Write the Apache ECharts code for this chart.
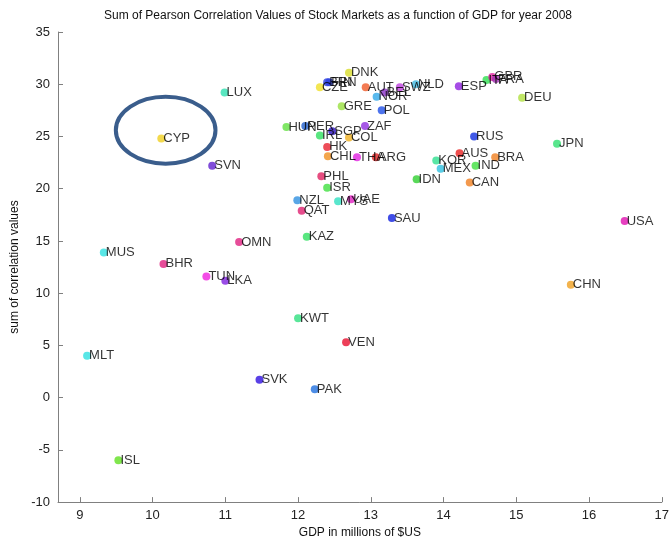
<!DOCTYPE html>
<html>
<head>
<meta charset="utf-8">
<title>Sum of Pearson Correlation Values vs GDP, 2008</title>
<script src="https://cdn.jsdelivr.net/npm/echarts@6/dist/echarts.min.js"></script>
<style>
  html, body { margin: 0; padding: 0; background: #fff; }
  #chart { width: 672px; height: 544px; }
</style>
</head>
<body>
<div id="chart"></div>
<script>
// Country codes, GDP (millions of $US, log scale units) and summed correlations
const countries = ['DNK','BRN','FIN','CZE','AUT','BEL','NOR','SWZ','NLD','POL','GRE',
  'HUN','PER','SGP','ZAF','IRL','COL','HK','CHL','THA','ARG',
  'ESP','ITA','GBR','FRA','DEU','RUS','JPN','AUS','KOR','MEX','IND','BRA','CAN','IDN',
  'PHL','ISR','NZL','MYS','UAE','QAT','SAU','KAZ','OMN','MUS','BHR','TUN','LKA',
  'KWT','VEN','MLT','SVK','PAK','ISL','USA','CHN','LUX','CYP','SVN'];
const gdp = [12.70, 12.40, 12.43, 12.30, 12.93, 13.19, 13.08, 13.40, 13.62, 13.15, 12.60,
  11.84, 12.10, 12.47, 12.92, 12.30, 12.70, 12.40, 12.41, 12.81, 13.07,
  14.21, 14.59, 14.67, 14.72, 15.08, 14.42, 15.56, 14.22, 13.90, 13.96, 14.44, 14.71, 14.36, 13.63,
  12.32, 12.40, 11.99, 12.55, 12.73, 12.05, 13.29, 12.12, 11.19, 9.33, 10.15, 10.74, 11.00,
  12.00, 12.66, 9.10, 11.47, 12.23, 9.53, 16.49, 15.75, 10.99, 10.12, 10.82];
const correlation = [31.1, 30.2, 30.2, 29.7, 29.7, 29.2, 28.8, 29.7, 30.0, 27.5, 27.9,
  25.9, 26.0, 25.5, 26.0, 25.1, 24.9, 24.0, 23.1, 23.0, 23.0,
  29.8, 30.4, 30.7, 30.5, 28.7, 25.0, 24.3, 23.4, 22.7, 21.9, 22.2, 23.0, 20.6, 20.9,
  21.2, 20.1, 18.9, 18.8, 19.0, 17.9, 17.2, 15.4, 14.9, 13.9, 12.8, 11.6, 11.2,
  7.6, 5.3, 4.0, 1.7, 0.8, -6.0, 16.9, 10.8, 29.2, 24.8, 22.2];

// Marker colours, one per country in the same order
const pointColors = ['#d8dc2c','#2a3ee0','#2a3ee0','#f0e028','#f05a28','#8a30c8','#30a8e8','#c040e0','#40b8e0','#2050e8','#98e040',
  '#60e040','#2060d0','#2a10c0','#9030e0','#30e060','#f0b020','#e82030','#f09020','#e020e0','#e02020',
  '#9020e0','#30e050','#e020a0','#a030b0','#b0e040','#1030e0','#30e070','#e82020','#30e090','#30c0e0','#40e040','#f08020','#f08020','#30d030',
  '#e02060','#40e040','#3090e0','#30e0c0','#e020c0','#e02070','#1020e0','#30e060','#e02080','#30e0e0','#e02080','#f020e0','#8020e0',
  '#30e080','#e81030','#30e0e0','#3010e0','#2070e0','#60e020','#e010b0','#f0a020','#30e0b0','#f0d020','#6020d0'];

const xTicks = [9, 10, 11, 12, 13, 14, 15, 16, 17];

// Ring drawn around CYP, in axis units
const highlightCenter = [10.18, 25.6];
const highlightRadius = [0.685, 3.2];

const fontFamily = 'Arial, "Liberation Sans", sans-serif';
const axisGray = '#808080';

const chart = echarts.init(document.getElementById('chart'), null, { renderer: 'canvas' });

const points = countries.map((c, i) => ({
  name: c,
  value: [gdp[i], correlation[i]],
  itemStyle: { color: pointColors[i] }
}));

chart.setOption({
  animation: false,
  backgroundColor: '#ffffff',
  title: {
    text: 'Sum of Pearson Correlation Values of Stock Markets as a function of GDP for year 2008',
    left: 333,
    top: 5,
    textAlign: 'center',
    textStyle: { fontFamily, fontSize: 12, fontWeight: 'normal', color: '#111' }
  },
  grid: { left: 58, right: 8, top: 32, bottom: 37, containLabel: false },
  xAxis: {
    type: 'value',
    min: 8.7,
    max: 17,
    name: 'GDP in millions of $US',
    nameLocation: 'middle',
    nameGap: 24,
    nameTextStyle: { fontFamily, fontSize: 12, color: '#111' },
    axisLine: { show: true, onZero: false, lineStyle: { color: axisGray, width: 1 } },
    axisTick: { show: true, inside: true, length: 5, customValues: xTicks, lineStyle: { color: axisGray } },
    axisLabel: { customValues: xTicks, fontFamily, fontSize: 13, color: '#222', margin: 7 },
    splitLine: { show: false }
  },
  yAxis: {
    type: 'value',
    min: -10,
    max: 35,
    interval: 5,
    name: 'sum of correlation values',
    nameLocation: 'middle',
    nameGap: 36,
    nameTextStyle: { fontFamily, fontSize: 12, color: '#111' },
    axisLine: { show: true, onZero: false, lineStyle: { color: axisGray, width: 1 } },
    axisTick: { show: true, inside: true, length: 5, lineStyle: { color: axisGray } },
    axisLabel: { fontFamily, fontSize: 13, color: '#222', margin: 8 },
    splitLine: { show: false }
  },
  series: [{
    type: 'scatter',
    symbol: 'circle',
    symbolSize: 8,
    data: points,
    label: {
      show: true,
      position: 'right',
      distance: -2,
      formatter: p => p.name,
      fontFamily,
      fontSize: 13,
      color: '#000'
    },
    emphasis: { disabled: true }
  }]
});

// Ring around the highlighted country, placed through the axes
const c = chart.convertToPixel({ gridIndex: 0 }, highlightCenter);
const e = chart.convertToPixel({ gridIndex: 0 }, [highlightCenter[0] + highlightRadius[0], highlightCenter[1] + highlightRadius[1]]);
chart.setOption({
  graphic: [{
    type: 'ellipse',
    shape: { cx: c[0], cy: c[1], rx: Math.abs(e[0] - c[0]), ry: Math.abs(e[1] - c[1]) },
    style: { fill: 'none', stroke: '#3a5d8c', lineWidth: 4 },
    z: 10
  }]
});
</script>
</body>
</html>
